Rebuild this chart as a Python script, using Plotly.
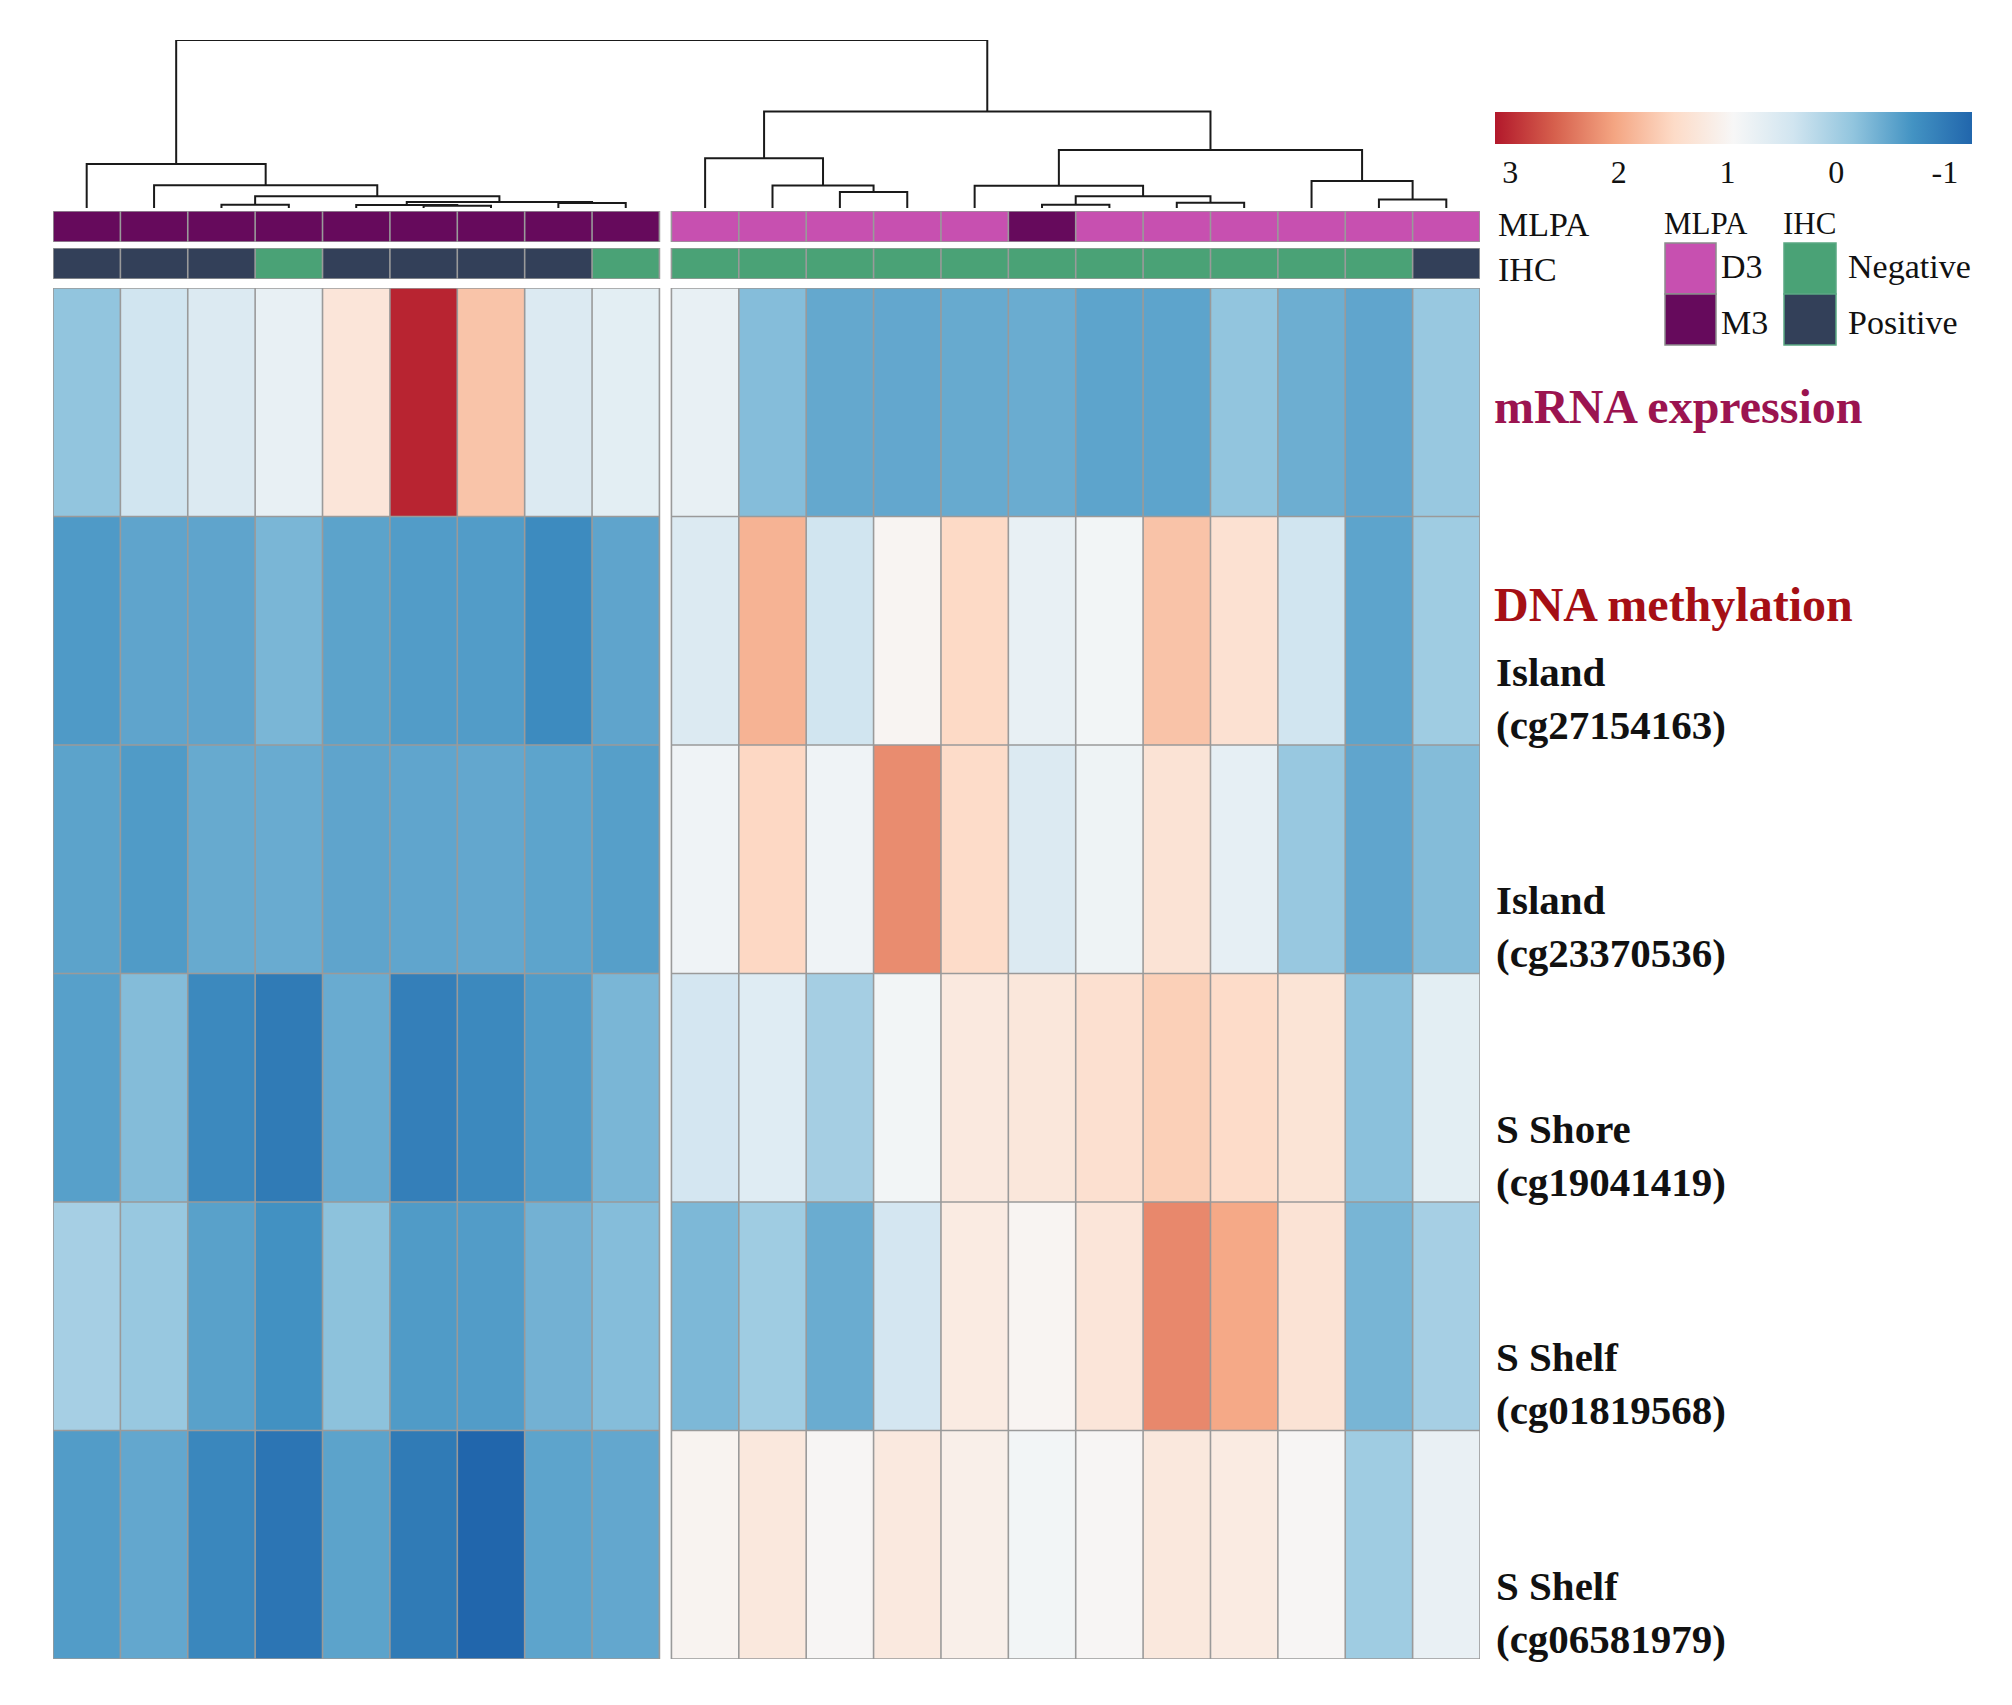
import plotly.graph_objects as go

# ---------------- data ----------------
row_labels = ["mRNA expression",
              "Island<br>(cg27154163)",
              "Island<br>(cg23370536)",
              "S Shore<br>(cg19041419)",
              "S Shelf<br>(cg01819568)",
              "S Shelf<br>(cg06581979)"]

# left cluster (9 samples), rows as in row_labels
left_values = [
    [-0.15, 0.40, 0.56, 0.73, 1.29, 3.05, 1.73, 0.56, 0.66],
    [-0.62, -0.51, -0.51, -0.32, -0.53, -0.60, -0.60, -0.80, -0.51],
    [-0.53, -0.61, -0.45, -0.44, -0.51, -0.50, -0.48, -0.52, -0.57],
    [-0.56, -0.25, -0.82, -1.00, -0.44, -0.95, -0.82, -0.60, -0.32],
    [0.02, -0.10, -0.55, -0.72, -0.19, -0.61, -0.60, -0.37, -0.24],
    [-0.60, -0.48, -0.85, -1.07, -0.53, -1.00, -1.25, -0.52, -0.48],
]
# right cluster (12 samples)
right_values = [
    [0.73, -0.24, -0.47, -0.48, -0.45, -0.43, -0.52, -0.52, -0.15, -0.41, -0.50, -0.10],
    [0.56, 1.90, 0.40, 1.00, 1.50, 0.73, 0.87, 1.74, 1.37, 0.40, -0.52, -0.04],
    [0.83, 1.52, 0.83, 2.24, 1.47, 0.56, 0.82, 1.33, 0.70, -0.10, -0.50, -0.25],
    [0.44, 0.60, 0.01, 0.87, 1.22, 1.26, 1.39, 1.61, 1.47, 1.32, -0.20, 0.66],
    [-0.30, -0.04, -0.43, 0.44, 1.18, 1.00, 1.29, 2.27, 2.00, 1.33, -0.33, 0.02],
    [1.02, 1.24, 0.98, 1.22, 1.10, 0.87, 0.98, 1.24, 1.18, 0.98, -0.04, 0.74],
]

left_mlpa = ["M3", "M3", "M3", "M3", "M3", "M3", "M3", "M3", "M3"]
right_mlpa = ["D3", "D3", "D3", "D3", "D3", "M3", "D3", "D3", "D3", "D3", "D3", "D3"]
left_ihc = ["Positive", "Positive", "Positive", "Negative", "Positive",
            "Positive", "Positive", "Positive", "Negative"]
right_ihc = ["Negative"] * 11 + ["Positive"]

mlpa_levels = ["D3", "M3"]
ihc_levels = ["Negative", "Positive"]

# dendrogram merges: (child_a, child_b, height); leaves 0..20, new nodes 21..
dendro_merges = [
    (5, 6, 1.7), (4, 21, 2.4), (7, 8, 3.9), (22, 23, 4.7), (2, 3, 2.6),
    (25, 24, 9.1), (1, 26, 17.6), (0, 27, 34.0),
    (11, 12, 12.4), (10, 29, 17.4), (9, 30, 38.3),
    (14, 15, 2.6), (16, 17, 4.1), (32, 33, 9.1), (13, 34, 17.2),
    (19, 20, 6.5), (18, 36, 20.9), (35, 37, 44.7), (31, 38, 74.4),
    (28, 39, 129.5),
]

colorbar_ticks = [3, 2, 1, 0, -1]
z_low, z_high = -1.25, 3.14

# ---------------- styling / layout ----------------
PAGE_W, PAGE_H = 2012, 1705
OFF = 8                      # default body margin of the html page
W, H = PAGE_W - 2 * OFF, PAGE_H - 2 * OFF
FONT = "Liberation Serif"
GRID = "#9a9a9a"
GAP = 12 / 67.4
mlpa_colors = ["#c750b0", "#660a5c"]
ihc_colors = ["#4aa276", "#334059"]
rdbu = ["#b2182b", "#d6604d", "#f4a582", "#fddbc7", "#f7f7f7",
        "#d1e5f0", "#92c5de", "#4393c3", "#2166ac"]


def fx(p):
    return (p - OFF) / W


def fy(p):
    return 1 - (p - OFF) / H


n_left = len(left_values[0])
n_right = len(right_values[0])
n_rows = len(row_labels)
offsets = [0, n_left + GAP]
blocks = [(left_values, left_mlpa, left_ihc, offsets[0], n_left),
          (right_values, right_mlpa, right_ihc, offsets[1], n_right)]
x_total = n_left + GAP + n_right

fig = go.Figure()


def grid_trace(x0, n, ny, yaxis):
    xs, ys = [], []
    for k in range(n + 1):
        xs += [x0 + k, x0 + k, None]
        ys += [0, ny, None]
    for r in range(ny + 1):
        xs += [x0, x0 + n, None]
        ys += [r, r, None]
    return go.Scatter(x=xs, y=ys, mode="lines", yaxis=yaxis, xaxis="x",
                      line=dict(color=GRID, width=1.6), hoverinfo="skip",
                      showlegend=False)


def disc_scale(cols):
    return [[0, cols[0]], [0.5, cols[0]], [0.5, cols[1]], [1, cols[1]]]


for vals, mlpa, ihc, x0, n in blocks:
    xe = [x0 + k for k in range(n + 1)]
    fig.add_trace(go.Heatmap(
        z=[[-v for v in row] for row in vals], x=xe, y=list(range(n_rows + 1)),
        coloraxis="coloraxis", xaxis="x", yaxis="y",
        customdata=vals, hovertemplate="%{customdata:.2f}<extra></extra>"))
    fig.add_trace(grid_trace(x0, n, n_rows, "y"))
    fig.add_trace(go.Heatmap(
        z=[[mlpa_levels.index(c) for c in mlpa]], x=xe, y=[0, 1],
        zmin=0, zmax=1, colorscale=disc_scale(mlpa_colors), showscale=False,
        xaxis="x", yaxis="y2", text=[mlpa], hovertemplate="%{text}<extra></extra>"))
    fig.add_trace(grid_trace(x0, n, 1, "y2"))
    fig.add_trace(go.Heatmap(
        z=[[ihc_levels.index(c) for c in ihc]], x=xe, y=[0, 1],
        zmin=0, zmax=1, colorscale=disc_scale(ihc_colors), showscale=False,
        xaxis="x", yaxis="y3", text=[ihc], hovertemplate="%{text}<extra></extra>"))
    fig.add_trace(grid_trace(x0, n, 1, "y3"))

# dendrogram
pos = [0.5 + k for k in range(n_left)] + [offsets[1] + 0.5 + j for j in range(n_right)]
hts = [0.0] * len(pos)
dx, dy = [], []
for a, b, h in dendro_merges:
    dx += [pos[a], pos[a], pos[b], pos[b], None]
    dy += [hts[a], h, h, hts[b], None]
    pos.append((pos[a] + pos[b]) / 2)
    hts.append(h)
fig.add_trace(go.Scatter(x=dx, y=dy, mode="lines", xaxis="x", yaxis="y4",
                         line=dict(color="#1a1a1a", width=2), hoverinfo="skip",
                         showlegend=False))

# row labels
ann = []
for i, lab in enumerate(row_labels):
    if i == 0:
        ann.append(dict(text="<b>" + lab + "</b>", x=fx(1492), xref="paper",
                        y=i + 0.52, yref="y", xanchor="left", yanchor="middle",
                        showarrow=False, font=dict(family=FONT, size=48, color="#9b1450")))
    else:
        ann.append(dict(text="<b>" + lab + "</b>", x=fx(1494), xref="paper",
                        y=i + 0.795, yref="y", xanchor="left", yanchor="middle",
                        align="left", showarrow=False,
                        font=dict(family=FONT, size=41, color="#111111")))
ann.append(dict(text="<b>DNA methylation</b>", x=fx(1492), xref="paper",
                y=fy(604), yref="paper", xanchor="left", yanchor="middle",
                showarrow=False, font=dict(family=FONT, size=48, color="#a50f15")))
ann.append(dict(text="MLPA", x=fx(1496), xref="paper", y=fy(224), yref="paper",
                xanchor="left", yanchor="middle", showarrow=False,
                font=dict(family=FONT, size=34, color="#111")))
ann.append(dict(text="IHC", x=fx(1496), xref="paper", y=fy(270), yref="paper",
                xanchor="left", yanchor="middle", showarrow=False,
                font=dict(family=FONT, size=34, color="#111")))

# legend for annotations
shapes = []
leg = [("MLPA", mlpa_levels, mlpa_colors, 1665, 1716, "#8c8c8c", 1719),
       ("IHC", ihc_levels, ihc_colors, 1784, 1836, "#5aa882", 1846)]
for title, levels, cols, xa, xb, edge, xt in leg:
    ann.append(dict(text=title, x=fx(xa - 3), xref="paper", y=fy(223), yref="paper",
                    xanchor="left", yanchor="middle", showarrow=False,
                    font=dict(family=FONT, size=31, color="#111")))
    for k, (lv, c) in enumerate(zip(levels, cols)):
        y0 = 243 + k * 51
        shapes.append(dict(type="rect", xref="paper", yref="paper",
                           x0=fx(xa), x1=fx(xb), y0=fy(y0), y1=fy(y0 + 51),
                           fillcolor=c, line=dict(color=edge, width=1.5)))
        ann.append(dict(text=lv, x=fx(xt), xref="paper", y=fy(266 + k * 56), yref="paper",
                        xanchor="left", yanchor="middle", showarrow=False,
                        font=dict(family=FONT, size=34, color="#111")))

cs = [[k / (len(rdbu) - 1), c] for k, c in enumerate(rdbu)]

fig.update_layout(
    width=W, height=H, margin=dict(l=0, r=0, t=0, b=0),
    paper_bgcolor="white", plot_bgcolor="white", showlegend=False,
    xaxis=dict(domain=[fx(53), fx(1480)], range=[0, x_total], visible=False, fixedrange=True),
    yaxis=dict(domain=[fy(1659), fy(288)], range=[n_rows, 0], visible=False),
    yaxis2=dict(domain=[fy(242), fy(211)], range=[0, 1], visible=False),
    yaxis3=dict(domain=[fy(279), fy(248)], range=[0, 1], visible=False),
    yaxis4=dict(domain=[fy(208), fy(40)], range=[0, max(h for _, _, h in dendro_merges)],
                visible=False),
    coloraxis=dict(
        colorscale=cs, cmin=-z_high, cmax=-z_low,
        colorbar=dict(orientation="h", x=fx(1495), xanchor="left", y=fy(112),
                      yanchor="top", len=477, lenmode="pixels", thickness=32,
                      thicknessmode="pixels", xpad=0, ypad=0, outlinewidth=0,
                      tickvals=[-t for t in colorbar_ticks],
                      ticktext=[str(t) for t in colorbar_ticks],
                      ticks="", ticklen=0,
                      tickfont=dict(family=FONT, size=32, color="#111"))),
    annotations=ann, shapes=shapes,
)

fig.write_html("out.html")
